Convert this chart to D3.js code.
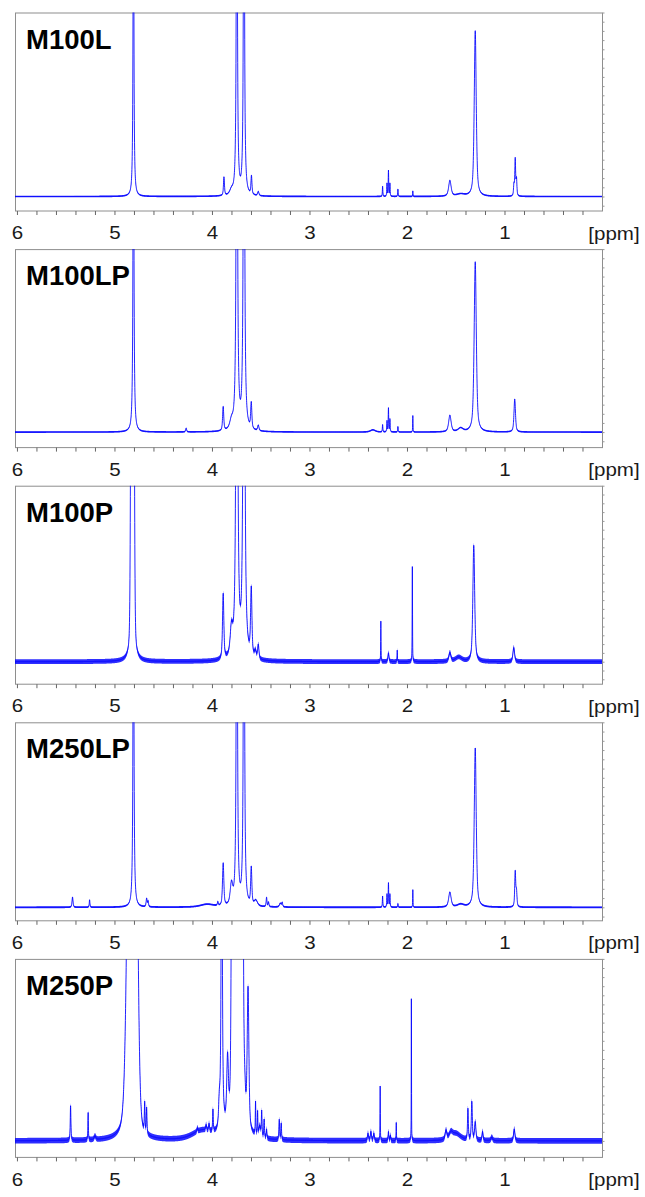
<!DOCTYPE html>
<html>
<head>
<meta charset="utf-8">
<script src="https://cdn.jsdelivr.net/npm/d3@7"></script>
<style>
  html, body { margin: 0; padding: 0; background: #fff; }
  svg { display: block; }
  text { font-family: Arial, "Liberation Sans", Helvetica, sans-serif; }
</style>
</head>
<body>
<svg id="chart" width="645" height="1197"></svg>
<script>
// Sample names, one per stacked 1H NMR spectrum
const sampleNames = ["M100L", "M100LP", "M100P", "M250LP", "M250P"];

// Chemical-shift axis
const ppmDomain = [6.02, 0.0];
const ppmLabels = [6, 5, 4, 3, 2, 1];
const ppmMinorStep = 0.2;
const unitLabel = "[ppm]";

// Peak tables: [shift (ppm), height (% of panel height above baseline), half-width (ppm), lorentzian fraction]
const peaksM100L = [
  [4.805, 250, 0.004, 1],
  [3.877, 10, 0.006], [3.80, 2.5, 0.02],
  [3.745, 300, 0.005, 1], [3.672, 300, 0.005, 1],
  [3.595, 10, 0.006], [3.525, 2.2, 0.008],
  [2.250, 5.5, 0.003], [2.205, 7, 0.003], [2.190, 14, 0.003], [2.175, 7, 0.003],
  [2.093, 4, 0.003], [1.940, 3, 0.002],
  [1.560, 8.5, 0.015], [1.450, 1.2, 0.05],
  [1.300, 90, 0.012],
  [0.903, 6, 0.005], [0.890, 20, 0.005], [0.877, 9, 0.005]
];

const peaksM100LP = [
  [4.805, 260, 0.0045, 1], [4.265, 2, 0.006],
  [3.885, 13, 0.007], [3.80, 4.5, 0.02],
  [3.745, 400, 0.0055, 1], [3.672, 400, 0.0055, 1],
  [3.597, 14, 0.007], [3.525, 3, 0.008],
  [2.350, 1.2, 0.03], [2.250, 4, 0.003],
  [2.205, 6, 0.003], [2.190, 13, 0.003], [2.175, 7, 0.003],
  [2.093, 3, 0.003], [1.940, 9, 0.002],
  [1.560, 9, 0.015], [1.450, 2, 0.03],
  [1.300, 93, 0.013],
  [0.895, 18, 0.009]
];

const peaksM100P = [
  [4.815, 800, 0.012, 0.15],
  [3.885, 37, 0.008], [3.80, 15, 0.015],
  [3.745, 600, 0.006, 1], [3.672, 600, 0.006, 1],
  [3.597, 38, 0.008], [3.555, 4, 0.01], [3.525, 8, 0.008],
  [2.268, 23, 0.002], [2.190, 5, 0.006], [2.100, 6.5, 0.002],
  [1.945, 54, 0.002],
  [1.560, 5, 0.012], [1.470, 2.5, 0.04],
  [1.315, 66, 0.011],
  [0.905, 8, 0.01]
];

const peaksM250LP = [
  [5.430, 5.5, 0.006], [5.255, 4, 0.004],
  [4.805, 260, 0.0045, 1],
  [4.670, 4.5, 0.006], [4.655, 3, 0.005],
  [4.050, 1.5, 0.08], [3.940, 2, 0.005],
  [3.885, 23, 0.008], [3.80, 11, 0.015],
  [3.745, 350, 0.005, 1], [3.672, 350, 0.005, 1],
  [3.597, 20, 0.007], [3.550, 3, 0.02],
  [3.440, 5, 0.005], [3.420, 2.5, 0.005],
  [3.300, 2, 0.01], [3.280, 2.4, 0.006],
  [2.250, 6, 0.003], [2.205, 7, 0.003], [2.190, 13, 0.003], [2.175, 7, 0.003],
  [2.093, 2, 0.003], [1.940, 9.5, 0.002],
  [1.560, 8, 0.015], [1.450, 1.5, 0.04],
  [1.300, 86, 0.012],
  [0.890, 19, 0.006], [0.877, 8, 0.006]
];

const peaksM250P = [
  [5.450, 19, 0.004], [5.270, 15, 0.003], [5.200, 2, 0.01],
  [4.860, 80, 0.03, 0.5], [4.810, 500, 0.035, 0.1],
  [4.690, 16, 0.004], [4.670, 14, 0.004],
  [4.100, 5, 0.12], [4.150, 2, 0.005], [4.060, 3, 0.005], [4.030, 4, 0.005], [3.990, 12, 0.004],
  [3.925, 12, 0.008], [3.900, 300, 0.005, 1], [3.840, 35, 0.01],
  [3.785, 400, 0.012, 0.2], [3.745, 800, 0.02, 0.2], [3.695, 400, 0.012, 0.2],
  [3.665, 15, 0.01], [3.630, 76, 0.01, 0.5],
  [3.553, 18, 0.003], [3.532, 13, 0.003], [3.510, 6, 0.01],
  [3.490, 14, 0.004], [3.465, 10, 0.004], [3.440, 5, 0.004],
  [3.310, 11, 0.004], [3.290, 9, 0.004],
  [2.400, 4, 0.006], [2.370, 5, 0.006], [2.340, 4, 0.006],
  [2.275, 30, 0.002], [2.190, 5, 0.004], [2.170, 3, 0.004], [2.110, 10, 0.002],
  [1.955, 78, 0.0015],
  [1.600, 5, 0.01], [1.550, 3, 0.02], [1.500, 4, 0.06],
  [1.375, 17, 0.005], [1.335, 21, 0.006], [1.300, 10, 0.008],
  [1.225, 5, 0.006], [1.130, 2, 0.01],
  [0.900, 6.5, 0.008]
];

const spectra = [peaksM100L, peaksM100LP, peaksM100P, peaksM250LP, peaksM250P];

// ---- layout ----
const frameLeft = 15, frameRight = 602;
const firstTop = 12.5, pitch = 236.6, frameH = 198;
const baselineLift = [14, 15, 22, 13, 16];   // px between baseline and frame bottom
const noiseHalf = [0.8, 0.8, 2.4, 0.9, 2.8];  // px half-thickness of the noisy trace
const traceColor = "#0000ff";
const labelStretch = 1.14;

const svg = d3.select("#chart");

const x = d3.scaleLinear().domain(ppmDomain).range([frameLeft, frameRight]);

// Pseudo-Voigt line shape
function lineShape(d, w, eta) {
  const r = d / w;
  return eta / (1 + r * r) + (1 - eta) * Math.exp(-Math.LN2 * r * r);
}

const step = 0.001;
const grid = d3.range(Math.round((ppmDomain[0] - ppmDomain[1]) / step) + 1)
  .map(i => ppmDomain[0] - i * step);

function trace(peaks) {
  return grid.map(p => {
    let v = 0;
    for (const pk of peaks) {
      const eta = pk.length > 3 ? pk[3] : 0.6;
      v += pk[1] * lineShape(p - pk[0], pk[2], eta);
    }
    return [p, v];
  });
}

const defs = svg.append("defs");

sampleNames.forEach((name, i) => {
  const top = firstTop + i * pitch;
  const bottom = top + frameH;
  const y = d3.scaleLinear().domain([0, 100]).range([bottom - baselineLift[i], top]);

  const g = svg.append("g");

  defs.append("clipPath").attr("id", "clip" + i)
    .append("rect")
    .attr("x", frameLeft).attr("y", top)
    .attr("width", frameRight - frameLeft).attr("height", frameH);

  // frame
  g.append("rect")
    .attr("x", frameLeft + 0.5).attr("y", top + 0.5)
    .attr("width", frameRight - frameLeft).attr("height", frameH)
    .attr("fill", "#fff").attr("stroke", "#8e8e8e").attr("stroke-width", 1);

  // intensity ruler on the right edge
  const yRule = d3.axisRight(y)
    .tickValues(d3.range(Math.ceil(y.invert(bottom) / 5) * 5, 100.01, 5))
    .tickSize(2).tickFormat("");
  const gr = g.append("g").attr("transform", `translate(${frameRight + 0.5},0)`).call(yRule);
  gr.select(".domain").remove();
  gr.selectAll("line").attr("stroke", "#9a9a9a");

  // spectrum
  const data = trace(spectra[i]);
  const plot = g.append("g").attr("clip-path", `url(#clip${i})`);
  const n = noiseHalf[i];
  plot.append("path")
    .datum(data)
    .attr("fill", traceColor).attr("fill-opacity", 0.82)
    .attr("d", d3.area().x(d => x(d[0])).y0(d => y(d[1]) + n).y1(d => y(d[1]) - n));
  plot.append("path")
    .datum(data)
    .attr("fill", "none").attr("stroke", traceColor).attr("stroke-width", 1)
    .attr("stroke-opacity", 0.85)
    .attr("d", d3.line().x(d => x(d[0])).y(d => y(d[1])));

  // minor ticks under the frame
  const minor = d3.axisBottom(x)
    .tickValues(d3.range(ppmMinorStep, ppmDomain[0], ppmMinorStep))
    .tickSize(4).tickFormat("");
  const gm = g.append("g").attr("transform", `translate(0,${bottom + 0.5})`).call(minor);
  gm.select(".domain").remove();
  gm.selectAll("line").attr("stroke", "#666");

  // ppm labels
  const major = d3.axisBottom(x).tickValues(ppmLabels).tickSize(0).tickPadding(0)
    .tickFormat(d3.format("d"));
  const ga = g.append("g").attr("transform", `translate(0,${bottom + 16})`).call(major);
  ga.select(".domain").remove();
  ga.selectAll("text")
    .attr("font-size", 18).attr("fill", "#1a1a1a")
    .attr("font-family", "Arial, 'Liberation Sans', sans-serif")
    .attr("transform", `scale(${labelStretch},1)`);

  g.append("g")
    .attr("transform", `translate(614,${bottom + 29})`)
    .append("text")
    .attr("text-anchor", "middle")
    .attr("transform", `scale(${labelStretch},1)`)
    .attr("font-size", 18).attr("fill", "#1a1a1a")
    .text(unitLabel);

  // sample name
  g.append("text")
    .attr("x", 26).attr("y", top + 36)
    .attr("font-size", 27.5).attr("font-weight", "bold").attr("fill", "#000")
    .text(name);
});
</script>
</body>
</html>
